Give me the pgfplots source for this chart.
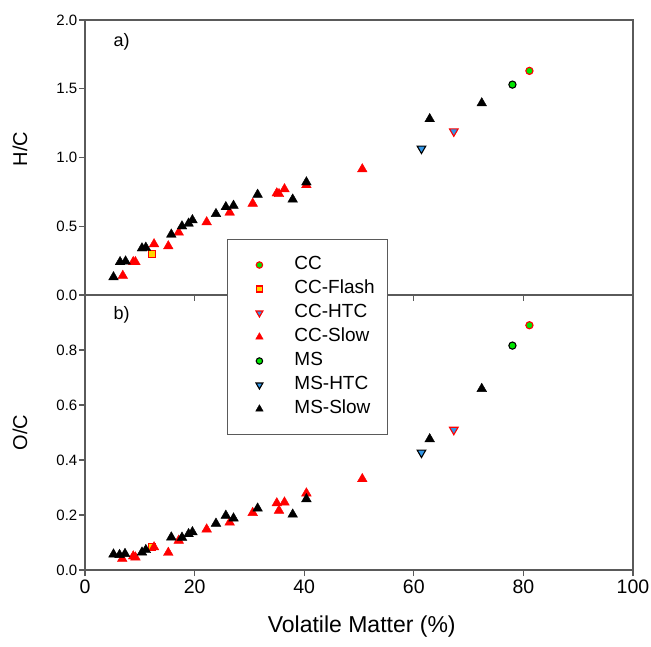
\documentclass[border=0pt]{standalone}
\usepackage{pgfplots}
\pgfplotsset{compat=1.18}
\usepackage{fontspec}
\setmainfont{Liberation Sans}

\definecolor{mygreen}{RGB}{0,230,0}
\definecolor{myblue}{RGB}{50,150,230}
\definecolor{myyellow}{RGB}{255,215,0}
\definecolor{axgray}{RGB}{90,90,90}

\pgfplotsset{
  panel/.style={
    scale only axis, width=548pt, height=275pt,
    xmin=0, xmax=100, xtick={0,20,...,100},
    axis line style={axgray, line width=1.2pt},
    tick style={axgray, line width=1.2pt},
    major tick length=6pt, tick align=outside,
    xtick pos=bottom, ytick pos=left,
    /pgf/number format/assume math mode=true,
    yticklabel style={font=\fontsize{15}{17}\selectfont, inner sep=1.5pt,
      /pgf/number format/.cd, fixed, fixed zerofill, precision=1},
    xticklabel style={font=\fontsize{19.5}{22}\selectfont},
    ylabel style={font=\fontsize{20}{24}\selectfont},
    xlabel style={font=\fontsize{23}{26}\selectfont},
    legend image code/.code={\path[draw=none,fill=none] (-21pt,-5pt) rectangle (33pt,5pt); \draw[#1] plot coordinates {(0pt,0pt)};},
  },
  sCC/.style={only marks, mark=*, mark size=3.6pt, mark options={fill=mygreen, draw=red, line width=1.1pt}, legend image post style={mark size=3.2pt}},
  sCCF/.style={only marks, mark=square*, mark size=3.4pt, mark options={fill=myyellow, draw=red, line width=1.1pt}, legend image post style={mark size=3pt}},
  sCCH/.style={only marks, mark=triangle*, mark size=5pt, mark options={rotate=180, fill=myblue, draw=red, line width=1.1pt}, legend image post style={mark size=4pt}},
  sCCS/.style={only marks, mark=triangle*, mark size=5.6pt, mark options={fill=red, draw=red, line width=0.4pt}, legend image post style={mark size=4.3pt}},
  sMS/.style={only marks, mark=*, mark size=3.6pt, mark options={fill=mygreen, draw=black, line width=1.1pt}, legend image post style={mark size=3.2pt}},
  sMSH/.style={only marks, mark=triangle*, mark size=5pt, mark options={rotate=180, fill=myblue, draw=black, line width=1.1pt}, legend image post style={mark size=4pt}},
  sMSS/.style={only marks, mark=triangle*, mark size=5.6pt, mark options={fill=black, draw=black, line width=0.4pt}, legend image post style={mark size=4.3pt}},
}

\begin{document}
\begin{tikzpicture}
\begin{axis}[panel, name=a, ymin=0, ymax=2, ytick={0,0.5,1,1.5,2}, xticklabels=\empty,
  ylabel={H/C}, ylabel style={at={(axis description cs:-0.1186,0.531)}, anchor=center}]
\addplot[sCC] coordinates {(81.1,1.63)};
\addplot[sCCF] coordinates {(12.2,0.30)};
\addplot[sCCH] coordinates {(67.3,1.19)};
\addplot[sCCS] coordinates {(6.9,0.14) (8.8,0.24) (9.2,0.24) (12.6,0.37) (15.2,0.355) (17.1,0.455) (22.2,0.53) (26.4,0.60) (30.6,0.665) (35.0,0.74) (35.4,0.735) (36.4,0.77) (40.4,0.80) (50.6,0.915)};
\addplot[sMS] coordinates {(78.0,1.53)};
\addplot[sMSH] coordinates {(61.4,1.065)};
\addplot[sMSS] coordinates {(5.2,0.13) (6.4,0.24) (7.4,0.245) (10.4,0.34) (11.1,0.345) (15.75,0.44) (17.7,0.50) (18.9,0.52) (19.6,0.545) (23.9,0.59) (25.7,0.64) (27.1,0.65) (31.5,0.73) (37.9,0.695) (40.4,0.82) (62.9,1.28) (72.4,1.395)};
\node[anchor=west, font=\fontsize{18}{20}\selectfont] at (axis cs:4.6,1.84) {a)};
\end{axis}
\begin{axis}[panel, name=b, at={(a.south west)}, anchor=north west,
  ymin=0, ymax=1, ytick={0,0.2,0.4,0.6,0.8},
  ylabel={O/C}, ylabel style={at={(axis description cs:-0.1186,0.5)}, anchor=center},
  xlabel={Volatile Matter (\%)}, xlabel style={at={(axis description cs:0.505,-0.207)}, anchor=center},
  legend cell align=left,
  legend style={at={(0.259,1.2036)}, anchor=north west, draw=axgray, line width=1pt, fill=white,
    font=\fontsize{19}{21}\selectfont, inner xsep=11pt, inner ysep=15pt, row sep=3pt,
    nodes={inner sep=2pt, text height=13pt, text depth=4pt}}]
\addplot[sCC] coordinates {(81.1,0.89)};
\addlegendentry{CC}
\addplot[sCCF] coordinates {(12.2,0.085)};
\addlegendentry{CC-Flash}
\addplot[sCCH] coordinates {(67.3,0.51)};
\addlegendentry{CC-HTC}
\addplot[sCCS] coordinates {(6.8,0.041) (8.8,0.05) (9.2,0.046) (12.6,0.083) (15.2,0.063) (17.1,0.107) (22.2,0.148) (26.4,0.173) (30.6,0.208) (35.0,0.243) (35.4,0.216) (36.4,0.246) (40.4,0.279) (50.6,0.331)};
\addlegendentry{CC-Slow}
\addplot[sMS] coordinates {(78.0,0.816)};
\addlegendentry{MS}
\addplot[sMSH] coordinates {(61.4,0.427)};
\addlegendentry{MS-HTC}
\addplot[sMSS] coordinates {(5.2,0.057) (6.3,0.055) (7.3,0.059) (10.4,0.064) (11.1,0.073) (15.75,0.119) (17.7,0.118) (18.9,0.131) (19.6,0.138) (23.9,0.169) (25.7,0.198) (27.1,0.188) (31.5,0.224) (37.9,0.202) (40.4,0.258) (62.9,0.476) (72.4,0.659)};
\addlegendentry{MS-Slow}
\node[anchor=west, font=\fontsize{18}{20}\selectfont] at (axis cs:4.6,0.927) {b)};
\end{axis}
\pgfresetboundingbox
\path[use as bounding box] ([shift={(-85pt,-77pt)}]b.south west) rectangle ([shift={(18pt,20pt)}]a.north east);
\end{tikzpicture}
\end{document}
